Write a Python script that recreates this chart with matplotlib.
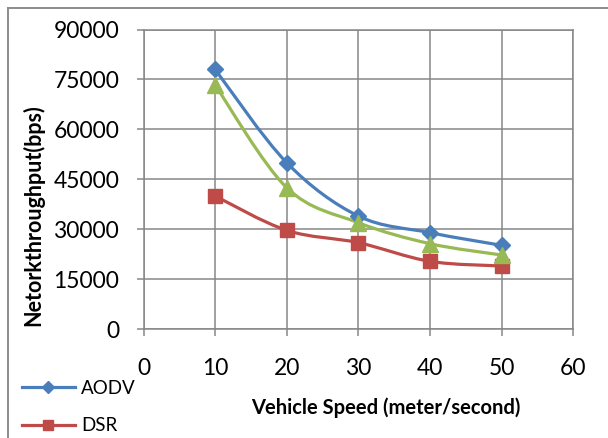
import matplotlib
matplotlib.use('Agg')
import matplotlib.pyplot as plt
from matplotlib.path import Path
from matplotlib.patches import PathPatch
from matplotlib.lines import Line2D

# ---- data ----
speed = [10, 20, 30, 40, 50]
aodv = [78000, 50000, 34000, 29000, 25200]
dsr = [40000, 29700, 26000, 20400, 19000]
third = [73300, 42500, 32000, 25700, 22300]
series_names = ['AODV', 'DSR', 'AOMDV']
x_ticks = [0, 10, 20, 30, 40, 50, 60]
y_ticks = [0, 15000, 30000, 45000, 60000, 75000, 90000]
x_label = 'Vehicle Speed (meter/second)'
y_label = 'Netorkthroughput(bps)'

colors = ['#4A7EBB', '#BE4B48', '#98B954']
markers = ['D', 's', '^']
msizes = [8, 10, 12]

FONT = 'Lato'
GRID = '#878787'

plt.rcParams['font.family'] = [FONT, 'DejaVu Sans']


def smooth_path(xs, ys):
    pts = list(zip(xs, ys))
    n = len(pts)
    verts = [pts[0]]
    codes = [Path.MOVETO]
    for i in range(n - 1):
        p0 = pts[i - 1] if i > 0 else pts[i]
        p1 = pts[i]
        p2 = pts[i + 1]
        p3 = pts[i + 2] if i + 2 < n else pts[i + 1]
        c1 = (p1[0] + (p2[0] - p0[0]) / 6.0, p1[1] + (p2[1] - p0[1]) / 6.0)
        c2 = (p2[0] - (p3[0] - p1[0]) / 6.0, p2[1] - (p3[1] - p1[1]) / 6.0)
        verts += [c1, c2, p2]
        codes += [Path.CURVE4] * 3
    return Path(verts, codes)


fig = plt.figure(figsize=(6.08, 4.38), dpi=100)
ax = fig.add_axes([143.5 / 608, 1 - 329.3 / 438, 429.8 / 608, 299.8 / 438])

handles = []
for ys, c, m, ms, name in zip([aodv, dsr, third], colors, markers, msizes, series_names):
    patch = PathPatch(smooth_path(speed, ys), facecolor='none', edgecolor=c,
                      lw=2.3, transform=ax.transData, zorder=3, capstyle='round',
                      joinstyle='round')
    ax.add_patch(patch)
    ax.plot(speed, ys, linestyle='none', marker=m, markersize=ms, color=c,
            markeredgecolor=c, zorder=4)
    handles.append(Line2D([], [], color=c, lw=2.3, marker=m, markersize=ms * 0.75,
                          markeredgecolor=c, label=name))

ax.set_xlim(0, 60)
ax.set_ylim(0, 90000)
ax.set_xticks(x_ticks)
ax.set_yticks(y_ticks)
ax.set_xticklabels([str(v) for v in x_ticks])
ax.set_yticklabels([str(v) for v in y_ticks])
ax.grid(True, color=GRID, lw=1.1)
ax.set_axisbelow(True)
for s in ax.spines.values():
    s.set_color(GRID)
    s.set_linewidth(1.1)
ax.tick_params(axis='both', direction='out', length=5, width=1.1, color=GRID,
               labelsize=16.5, labelcolor='black')
ax.tick_params(axis='y', pad=12.5)
ax.tick_params(axis='x', pad=16)

ax.set_xlabel(x_label, fontsize=14.5, fontweight='bold', va='center')
ax.xaxis.set_label_coords((386 - 143.5) / 429.8, (329.3 - 408) / 299.8)
ax.set_ylabel(y_label, fontsize=15.5, fontweight='bold', va='center')
ax.yaxis.set_label_coords((33 - 143.5) / 429.8, (329.3 - 215) / 299.8)

# Only the first two legend entries fall inside the canvas in the reference
fig.legend(handles=handles[:2], loc='upper left',
           bbox_to_anchor=(22 / 608, 1 - 380 / 438), frameon=False,
           fontsize=13.5, handlelength=2.8, handletextpad=0.35,
           labelspacing=1.07, borderpad=0, borderaxespad=0)

# outer chart border (left and top visible)
fig.add_artist(Line2D([8 / 608, 8 / 608], [0, 1 - 8 / 438], transform=fig.transFigure,
                      color='#8c8c8c', lw=1.4))
fig.add_artist(Line2D([8 / 608, 1], [1 - 8 / 438, 1 - 8 / 438], transform=fig.transFigure,
                      color='#8c8c8c', lw=1.4))

fig.savefig('out.png', dpi=100)
